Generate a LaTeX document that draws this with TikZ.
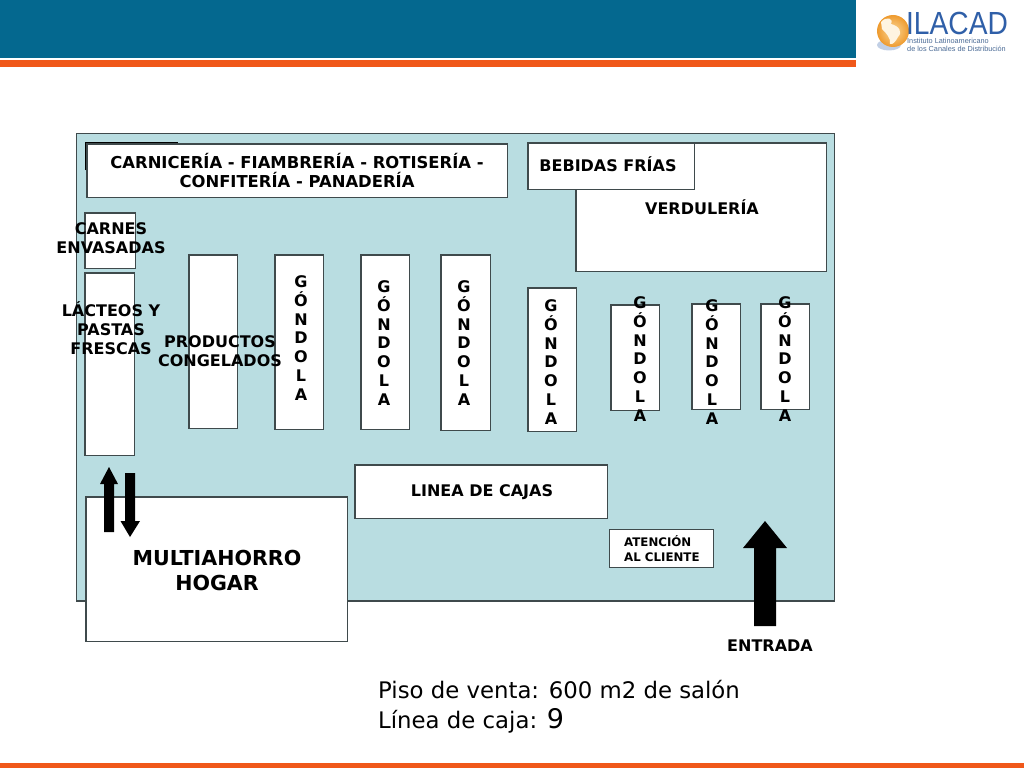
\documentclass[tikz,border=0pt]{standalone}
\usepackage{fontspec}
\setmainfont{DejaVu Sans}
\newfontfamily\logofont{Liberation Sans}
\definecolor{hdrblue}{HTML}{04688F}
\definecolor{hdrorange}{HTML}{F0581A}
\definecolor{roomblue}{HTML}{B9DDE1}
\definecolor{boxline}{HTML}{3F4A4C}
\definecolor{logoblue}{HTML}{2F5FA8}
\definecolor{logosub}{HTML}{4A6A95}
\definecolor{globeout}{HTML}{EE9A2E}
\definecolor{globein}{HTML}{FBD99A}
\newcommand{\fs}[1]{\fontsize{#1}{#1}\selectfont}
\newcommand{\gondola}{G\\Ó\\N\\D\\O\\L\\A}
\tikzset{
  x=1pt,y=-1pt,
  roombox/.style={draw=boxline,line width=1.2pt,fill=white},
  lbl/.style={font=\fontsize{16}{18.7}\selectfont\bfseries,text=black,align=center,inner sep=0pt},
  gondlbl/.style={font=\fontsize{16}{18.9}\selectfont\bfseries,text=black,align=center,inner sep=0pt},
  blockarrow/.style={fill=black,draw=none}
}
\begin{document}
\begin{tikzpicture}
\useasboundingbox (0,0) rectangle (1024,768);
% header / footer
\fill[hdrblue] (0,0) rectangle (856,58);
\fill[hdrorange] (0,60) rectangle (856,67);
\fill[hdrorange] (0,763) rectangle (1024,768);
% logo
\fill[logoblue!30] (889,45) ellipse (12 and 5.5);
\shade[inner color=globein,outer color=globeout] (893,31) circle (16);
\fill[white!70!globein] (881,22) .. controls (886,16) and (894,18) .. (891,24) .. controls (899,26) and (903,32) .. (898,37) .. controls (896,41) and (893,45) .. (890,44) .. controls (891,38) and (886,33) .. (882,29) -- cycle;
\node[font=\logofont\fs{32},text=logoblue,inner sep=0pt,anchor=center,xscale=0.88] (logoname) at (957,23) {ILACAD};
\node[font=\logofont\fs{7.3},text=logosub,inner sep=0pt,align=left,anchor=north west] (logotag) at (907,38.5) {\fontsize{7.3}{7}\selectfont Instituto Latinoamericano\\de los Canales de Distribución};
% room
\draw[roombox,fill=roomblue] (76.5,133.5) rectangle (834.5,601);
% boxes
\draw[draw=black,line width=1.2pt] (85.5,170) -- (85.5,143) -- (178,143);
\draw[roombox] (576,143) rectangle (826.6,271.6);
\draw[roombox] (87,144) rectangle (507.6,197.6);
\draw[roombox] (528,143) rectangle (694.6,189.6);
\draw[roombox] (85,213) rectangle (135.6,268.6);
\draw[roombox] (85,273) rectangle (134.6,455.6);
\draw[roombox] (189,255) rectangle (237.6,428.6);
\draw[roombox] (275,255) rectangle (323.6,429.6);
\draw[roombox] (361,255) rectangle (409.6,429.6);
\draw[roombox] (441,255) rectangle (490.6,430.6);
\draw[roombox] (528,288) rectangle (576.6,431.6);
\draw[roombox] (611,305) rectangle (659.6,410.6);
\draw[roombox] (692,304) rectangle (740.6,409.6);
\draw[roombox] (761,304) rectangle (809.6,409.6);
\draw[roombox] (355,465) rectangle (607.6,518.6);
\draw[roombox] (86,497) rectangle (347.6,641.6);
\draw[roombox,line width=1pt] (609,529) rectangle (713.6,567.6);
% arrows
\fill[blockarrow] (104,532) -- (104,484) -- (100,484) -- (109,467) -- (118,484) -- (114,484) -- (114,532) -- cycle;
\fill[blockarrow] (125,473) -- (125,521) -- (120.5,521) -- (130,537) -- (140,521) -- (135,521) -- (135,473) -- cycle;
\fill[blockarrow] (754,626) -- (754,548) -- (743,548) -- (765,521) -- (787,548) -- (776,548) -- (776,626) -- cycle;
% labels
\node[lbl,font=\fontsize{16.4}{19}\selectfont\bfseries] (carni) at (297,171) {CARNICERÍA - FIAMBRERÍA - ROTISERÍA -\\CONFITERÍA - PANADERÍA};
\node[lbl] (bebidas) at (608,164) {BEBIDAS FRÍAS};
\node[lbl] (verdu) at (702,207.5) {VERDULERÍA};
\node[lbl] (carnes) at (111,238.5) {CARNES\\ENVASADAS};
\node[lbl] (lacteos) at (111,328) {LÁCTEOS Y\\PASTAS\\FRESCAS};
\node[lbl] (prod) at (220,351) {PRODUCTOS\\CONGELADOS};
\node[gondlbl] (g1) at (301,338) {\gondola};
\node[gondlbl] (g2) at (384,343) {\gondola};
\node[gondlbl] (g3) at (464,343) {\gondola};
\node[gondlbl] (g4) at (551,362) {\gondola};
\node[gondlbl] (g5) at (640,359) {\gondola};
\node[gondlbl] (g6) at (712,362) {\gondola};
\node[gondlbl] (g7) at (785,359) {\gondola};
\node[lbl] (cajas) at (482,492.5) {LINEA DE CAJAS};
\node[lbl,font=\fontsize{20.6}{25}\selectfont\bfseries] (multi) at (217,570) {MULTIAHORRO\\HOGAR};
\node[lbl,font=\fontsize{11.8}{15}\selectfont\bfseries,align=left,anchor=west] (atencion) at (624,548.5) {ATENCIÓN\\AL CLIENTE};
\node[lbl] (entrada) at (770,645.5) {ENTRADA};
\node[font=\fs{22.8},text=black,inner sep=0pt,anchor=base west] (piso) at (378,698) {Piso de venta: 600 m2 de salón};
\node[font=\fs{22.8},text=black,inner sep=0pt,anchor=base west] (linea) at (378,728) {Línea de caja: {\fs{27}9}};
\end{tikzpicture}
\end{document}
